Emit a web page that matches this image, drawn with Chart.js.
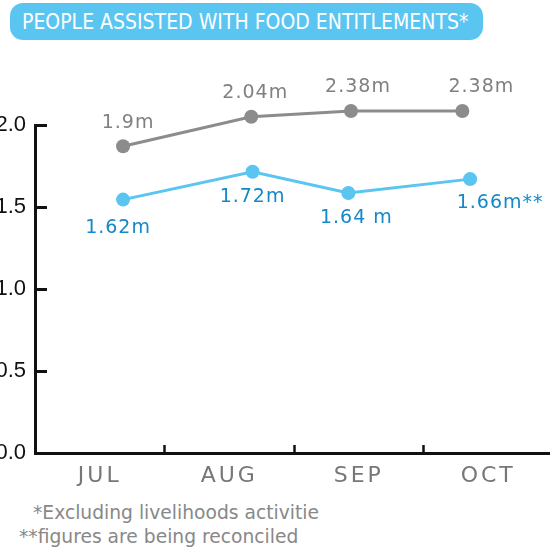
<!DOCTYPE html>
<html lang="en">
<head>
  <meta charset="UTF-8" />
  <title>People assisted with food entitlements</title>
  <script src="https://cdn.jsdelivr.net/npm/chart.js"></script>
  <style>
    html, body { margin: 0; padding: 0; background: #fff; overflow: hidden; }
    body { width: 550px; height: 547px; position: relative; font-family: "DejaVu Sans", Verdana, sans-serif; }
    .title {
      position: absolute; left: 10px; top: 3px; width: 461px; height: 37px;
      padding-left: 12px; line-height: 39px; border-radius: 13px;
      background: #5bc5f2; color: #fff; white-space: nowrap; overflow: hidden;
    }
    .title span { display: inline-block; font-size: 21px; transform: scaleX(0.9); transform-origin: left center; }
    .note { position: absolute; color: #888; font-size: 18.7px; white-space: nowrap; }
    #wrap { position: absolute; left: -40px; top: 50px; width: 640px; height: 450px; }
  </style>
</head>
<body>
  <div class="title"><span>PEOPLE ASSISTED WITH FOOD ENTITLEMENTS*</span></div>
  <div id="wrap"><canvas id="chart"></canvas></div>
  <div class="note" style="left:33px; top:502px;">*Excluding livelihoods activitie</div>
  <div class="note" style="left:19px; top:526px;">**figures are being reconciled</div>

  <script>
    // months on the category axis
    const months = ['JUL', 'AUG', 'SEP', 'OCT'];
    const yTicks = [0, 0.5, 1.0, 1.5, 2.0];

    // total people (grey) - where the points sit, in month slots
    const totalX = [0.68, 1.67, 2.44, 3.30];
    const totalY = [1.87, 2.05, 2.085, 2.085];
    const totalLabels = ['1.9m', '2.04m', '2.38m', '2.38m'];

    // food entitlements (blue)
    const foodX = [0.68, 1.68, 2.42, 3.36];
    const foodY = [1.545, 1.715, 1.585, 1.67];
    const foodLabels = ['1.62m', '1.72m', '1.64 m', '1.66m**'];

    const FONT = '"DejaVu Sans", Verdana, sans-serif';

    // let points above the 2.0 line still be drawn
    const freeArea = {
      id: 'freeArea',
      beforeDatasetsDraw(chart) {
        chart._keptArea = chart.chartArea;
        chart.chartArea = Object.assign({}, chart.chartArea, { top: 0 });
      },
      afterDatasetsDraw(chart) {
        chart.chartArea = chart._keptArea;
      }
    };

    // wider spacing on the month labels
    const spacedMonths = {
      id: 'spacedMonths',
      afterLayout(chart) {
        const sx = chart.scales.x;
        if (!sx || sx._spaced) return;
        const orig = sx.drawLabels;
        sx.drawLabels = function (area) {
          const c = this.ctx;
          c.save();
          c.letterSpacing = '3px';
          orig.call(this, area);
          c.restore();
        };
        sx._spaced = true;
      }
    };

    // draws the value labels next to each point
    const valueLabels = {
      id: 'valueLabels',
      afterDatasetsDraw(chart, args, opts) {
        const ctx = chart.ctx;
        chart.data.datasets.forEach((ds, i) => {
          const meta = chart.getDatasetMeta(i);
          const cfg = opts.sets[i];
          ctx.save();
          ctx.font = '19px ' + FONT;
          ctx.letterSpacing = '1px';
          ctx.fillStyle = cfg.color;
          ctx.textAlign = 'center';
          ctx.textBaseline = 'middle';
          meta.data.forEach((pt, j) => {
            ctx.fillText(cfg.labels[j], pt.x + cfg.dx[j], pt.y + cfg.dy[j]);
          });
          ctx.restore();
        });
      }
    };

    const ctx = document.getElementById('chart').getContext('2d');
    new Chart(ctx, {
      type: 'line',
      data: {
        labels: months,
        datasets: [
          {
            label: 'Total',
            data: totalX.map((x, i) => ({ x: x, y: totalY[i] })),
            xAxisID: 'xData',
            borderColor: '#8c8c8c',
            backgroundColor: '#8c8c8c',
            borderWidth: 3,
            pointRadius: 7,
            pointBorderWidth: 0,
            clip: false
          },
          {
            label: 'Food',
            data: foodX.map((x, i) => ({ x: x, y: foodY[i] })),
            xAxisID: 'xData',
            borderColor: '#5bc5f2',
            backgroundColor: '#5bc5f2',
            borderWidth: 3,
            pointRadius: 7,
            pointBorderWidth: 0,
            clip: false
          }
        ]
      },
      options: {
        responsive: true,
        maintainAspectRatio: false,
        animation: false,
        layout: { padding: { top: 75, right: 47, left: 0, bottom: 0 } },
        plugins: {
          legend: { display: false },
          tooltip: { enabled: false },
          valueLabels: {
            sets: [
              { labels: totalLabels, color: '#808080', dx: [5, 4, 7, 19], dy: [-23, -24, -24, -24] },
              { labels: foodLabels, color: '#1488c8', dx: [-5, 0, 8, 30], dy: [28, 25, 25, 24] }
            ]
          }
        },
        scales: {
          x: {
            type: 'category',
            offset: true,
            afterFit: (s) => { s.height = 47; },
            border: { color: '#111', width: 3 },
            grid: { offset: true, drawOnChartArea: false, tickLength: -8, tickWidth: 2.5, tickColor: '#111' },
            ticks: { color: '#777', padding: 18, font: { family: FONT, size: 22 } }
          },
          xData: {
            type: 'linear',
            display: false,
            min: 0,
            max: months.length
          },
          y: {
            min: yTicks[0],
            max: yTicks[yTicks.length - 1],
            afterFit: (s) => { s.width = 75; },
            afterBuildTicks: (s) => { s.ticks = yTicks.map(v => ({ value: v })); },
            border: { color: '#111', width: 3 },
            grid: { drawOnChartArea: false, tickLength: -12, tickWidth: 3, tickColor: '#111' },
            ticks: {
              color: '#111', padding: 21,
              font: { family: '"Liberation Sans", Arial, sans-serif', size: 22 },
              callback: (v) => Number(v).toFixed(1)
            }
          }
        }
      },
      plugins: [freeArea, spacedMonths, valueLabels]
    });
  </script>
</body>
</html>
